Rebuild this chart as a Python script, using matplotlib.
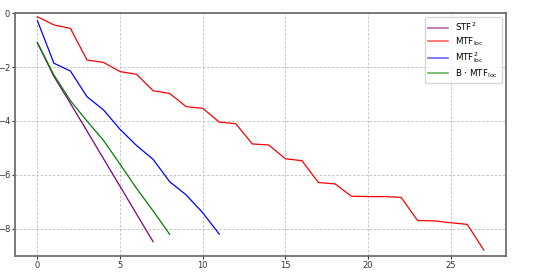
import numpy as np
import matplotlib
matplotlib.use('Agg')
import matplotlib.pyplot as plt

# log-values
stf2 = [-1.1, -2.35, -3.35, -4.37, -5.4, -6.42, -7.45, -8.47]
mtf_loc = [-0.14, -0.44, -0.57, -1.74, -1.83, -2.17, -2.27, -2.88, -2.98, -3.47,
           -3.53, -4.04, -4.1, -4.85, -4.89, -5.4, -5.47, -6.28, -6.33, -6.79,
           -6.8, -6.8, -6.83, -7.69, -7.7, -7.77, -7.83, -8.78]
mtf_loc2 = [-0.28, -1.86, -2.15, -3.1, -3.59, -4.31, -4.91, -5.42, -6.25, -6.74,
            -7.4, -8.19]
b_mtf_loc = [-1.1, -2.3, -3.25, -4.0, -4.72, -5.6, -6.5, -7.33, -8.2]

labels = [r'STF$^2$', r'MTF$_{\mathrm{loc}}$', r'MTF$^2_{\mathrm{loc}}$',
          r'B $\cdot$ MTF$_{\mathrm{loc}}$']
colors = ['purple', 'red', 'blue', 'green']

fig = plt.figure(figsize=(5.58, 2.77), dpi=100)
ax = fig.add_axes([0.027, 0.076, 0.88, 0.877])

for ys, lab, c in zip([stf2, mtf_loc, mtf_loc2, b_mtf_loc], labels, colors):
    ax.plot(np.arange(len(ys)), ys, color=c, lw=0.9, label=lab)

ax.set_ylim(-9, 0)
ax.set_yticks([0, -2, -4, -6, -8])
ax.set_xticks([0, 5, 10, 15, 20, 25])
ax.grid(True, ls=(0, (3, 2)), color='#bbbbbb', lw=0.6)
for s in ax.spines.values():
    s.set_color('#707070')
    s.set_linewidth(1.3)
ax.tick_params(labelsize=6, colors='#333333', length=2, pad=1.5)
leg = ax.legend(loc='upper right', fontsize=6.3, handlelength=2.3,
                labelspacing=0.25, borderpad=0.4, framealpha=0.8)
for h in leg.get_lines():
    h.set_alpha(0.6)
    h.set_linewidth(1.2)

fig.savefig('out.png', dpi=100)
